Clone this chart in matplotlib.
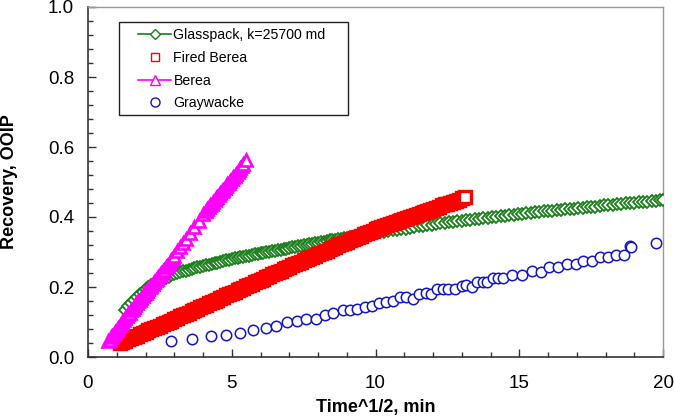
import matplotlib
matplotlib.use("Agg")
import matplotlib.pyplot as plt
from matplotlib.ticker import MultipleLocator, FuncFormatter
from matplotlib.lines import Line2D
from matplotlib.patches import Rectangle

plt.rcParams['font.family'] = ['Liberation Sans', 'DejaVu Sans']

# ---- data ----
gw_x = [2.88, 3.63, 4.28, 4.81, 5.29, 5.74, 6.18, 6.53, 6.92, 7.26, 7.58, 7.92, 8.24, 8.53,
        8.86, 9.10, 9.37, 9.64, 9.88, 10.13, 10.37, 10.62, 10.85, 11.06, 11.29, 11.53, 11.76,
        11.92, 12.13, 12.34, 12.53, 12.77, 13.00, 13.15, 13.34, 13.52, 13.73, 13.89, 14.10,
        14.27, 14.45, 14.74, 15.08, 15.43, 15.75, 16.03, 16.36, 16.65, 16.97, 17.23, 17.52,
        17.81, 18.10, 18.37, 18.64, 18.85, 18.89, 19.75]
gw_y = [0.045, 0.052, 0.059, 0.063, 0.069, 0.078, 0.084, 0.089, 0.100, 0.104, 0.109, 0.110,
        0.119, 0.126, 0.133, 0.133, 0.136, 0.144, 0.146, 0.155, 0.158, 0.161, 0.171, 0.171,
        0.167, 0.179, 0.182, 0.179, 0.193, 0.193, 0.193, 0.193, 0.203, 0.206, 0.200, 0.215,
        0.215, 0.215, 0.227, 0.227, 0.227, 0.234, 0.234, 0.247, 0.244, 0.256, 0.256, 0.266,
        0.266, 0.275, 0.275, 0.285, 0.285, 0.291, 0.291, 0.317, 0.315, 0.327]

fb_x = [1.1, 1.2, 1.3, 1.4, 1.5, 1.6, 1.7, 1.8, 1.9, 2.0, 2.1, 2.2, 2.3, 2.4, 2.5, 2.6, 2.7,
        2.8, 2.9, 3.0, 3.1, 3.2, 3.3, 3.4, 3.5, 3.6, 3.7, 3.8, 3.9, 4.0, 4.1, 4.2, 4.3, 4.4,
        4.5, 4.6, 4.7, 4.8, 4.9, 5.0, 5.1, 5.2, 5.3, 5.4, 5.5, 5.6, 5.7, 5.8, 5.9, 6.0, 6.1,
        6.2, 6.3, 6.4, 6.5, 6.6, 6.7, 6.8, 6.9, 7.0, 7.1, 7.2, 7.3, 7.4, 7.5, 7.6, 7.7, 7.8,
        7.9, 8.0, 8.1, 8.2, 8.3, 8.4, 8.5, 8.6, 8.7, 8.8, 8.9, 9.0, 9.1, 9.2, 9.3, 9.4, 9.5,
        9.6, 9.7, 9.8, 9.9, 10.0, 10.1, 10.2, 10.3, 10.4, 10.5, 10.6, 10.7, 10.8, 10.9, 11.0,
        11.1, 11.2, 11.3, 11.4, 11.5, 11.6, 11.7, 11.8, 11.9, 12.0, 12.1, 12.2, 12.3, 12.4,
        12.5, 12.6, 12.7, 12.8, 12.9, 13.0, 13.1]
fb_y = [0.040, 0.044, 0.047, 0.051, 0.054, 0.058, 0.061, 0.065, 0.069, 0.072, 0.076, 0.079,
        0.083, 0.086, 0.090, 0.094, 0.097, 0.101, 0.104, 0.108, 0.112, 0.116, 0.119, 0.123,
        0.127, 0.131, 0.134, 0.138, 0.142, 0.146, 0.149, 0.153, 0.157, 0.161, 0.164, 0.168,
        0.172, 0.176, 0.179, 0.183, 0.187, 0.191, 0.194, 0.198, 0.202, 0.206, 0.209, 0.213,
        0.217, 0.221, 0.224, 0.228, 0.232, 0.236, 0.239, 0.243, 0.247, 0.251, 0.254, 0.258,
        0.262, 0.265, 0.269, 0.272, 0.276, 0.279, 0.283, 0.287, 0.290, 0.294, 0.297, 0.301,
        0.304, 0.308, 0.312, 0.315, 0.319, 0.322, 0.326, 0.329, 0.333, 0.337, 0.340, 0.344,
        0.347, 0.351, 0.354, 0.358, 0.361, 0.365, 0.368, 0.371, 0.374, 0.377, 0.380, 0.383,
        0.386, 0.389, 0.391, 0.394, 0.397, 0.400, 0.403, 0.406, 0.409, 0.412, 0.415, 0.418,
        0.421, 0.424, 0.427, 0.430, 0.433, 0.436, 0.438, 0.441, 0.444, 0.447, 0.450, 0.453,
        0.456]

gp_x = [1.3, 1.4, 1.5, 1.6, 1.7, 1.8, 1.9, 2.0, 2.1, 2.2, 2.3, 2.4, 2.5, 2.6, 2.7, 2.8, 2.9,
        3.0, 3.1, 3.2, 3.3, 3.4, 3.5, 3.6, 3.7, 3.8, 3.9, 4.0, 4.1, 4.2, 4.3, 4.4, 4.5, 4.6,
        4.7, 4.8, 4.9, 5.0, 5.1, 5.2, 5.3, 5.4, 5.5, 5.6, 5.7, 5.8, 5.9, 6.0, 6.1, 6.2, 6.3,
        6.4, 6.5, 6.6, 6.7, 6.8, 6.9, 7.0, 7.1, 7.2, 7.3, 7.4, 7.5, 7.6, 7.7, 7.8, 7.9, 8.0,
        8.1, 8.2, 8.3, 8.4, 8.5, 8.6, 8.7, 8.8, 8.9, 9.0, 9.1, 9.2, 9.3, 9.4, 9.5, 9.6, 9.7,
        9.8, 9.9, 10.0, 10.15, 10.30, 10.45, 10.60, 10.75, 10.90, 11.05, 11.20, 11.35, 11.50,
        11.65, 11.80, 11.95, 12.10, 12.25, 12.40, 12.55, 12.70, 12.85, 13.00, 13.15, 13.30,
        13.45, 13.60, 13.75, 13.90, 14.05, 14.20, 14.35, 14.50, 14.65, 14.80, 14.95, 15.10,
        15.25, 15.40, 15.55, 15.70, 15.85, 16.00, 16.15, 16.30, 16.45, 16.60, 16.75, 16.90,
        17.05, 17.20, 17.35, 17.50, 17.65, 17.80, 17.95, 18.10, 18.25, 18.40, 18.55, 18.70,
        18.85, 19.00, 19.15, 19.30, 19.45, 19.60, 19.75, 19.90, 20.00]
gp_y = [0.135, 0.145, 0.154, 0.163, 0.171, 0.179, 0.186, 0.193, 0.199, 0.205, 0.210, 0.215,
        0.220, 0.224, 0.227, 0.230, 0.233, 0.236, 0.239, 0.242, 0.245, 0.247, 0.250, 0.252,
        0.254, 0.256, 0.258, 0.260, 0.262, 0.264, 0.266, 0.268, 0.270, 0.272, 0.274, 0.276,
        0.278, 0.280, 0.282, 0.283, 0.285, 0.286, 0.288, 0.290, 0.291, 0.293, 0.294, 0.296,
        0.298, 0.299, 0.301, 0.302, 0.304, 0.306, 0.307, 0.309, 0.310, 0.312, 0.314, 0.315,
        0.317, 0.318, 0.320, 0.321, 0.323, 0.324, 0.326, 0.327, 0.328, 0.330, 0.331, 0.333,
        0.334, 0.335, 0.337, 0.338, 0.340, 0.341, 0.342, 0.344, 0.345, 0.346, 0.348, 0.349,
        0.350, 0.351, 0.353, 0.354, 0.356, 0.358, 0.360, 0.362, 0.364, 0.366, 0.367, 0.369,
        0.371, 0.373, 0.375, 0.377, 0.378, 0.380, 0.382, 0.383, 0.385, 0.386, 0.388, 0.389,
        0.391, 0.392, 0.394, 0.395, 0.397, 0.398, 0.400, 0.401, 0.403, 0.404, 0.405, 0.407,
        0.408, 0.409, 0.411, 0.412, 0.413, 0.415, 0.416, 0.417, 0.418, 0.420, 0.421, 0.422,
        0.423, 0.424, 0.426, 0.427, 0.428, 0.429, 0.430, 0.432, 0.433, 0.434, 0.435, 0.436,
        0.437, 0.439, 0.440, 0.441, 0.442, 0.443, 0.444, 0.445, 0.447, 0.448, 0.449]

be_x = [0.70, 0.75, 0.80, 0.85, 0.90, 0.95, 1.00, 1.05, 1.10, 1.15, 1.20, 1.25, 1.30, 1.35,
        1.40, 1.45, 1.50, 1.55, 1.60, 1.65, 1.70, 1.75, 1.80, 1.85, 1.90, 1.95, 2.00, 2.05,
        2.10, 2.15, 2.20, 2.25, 2.30, 2.35, 2.40, 2.45, 2.50, 2.55, 2.60, 2.65, 2.70, 2.75,
        2.80, 2.85, 2.90, 2.95, 3.00, 3.10, 3.20, 3.30, 3.40, 3.55, 3.70, 3.85, 4.00, 4.10,
        4.15, 4.20, 4.25, 4.30, 4.35, 4.40, 4.45, 4.50, 4.55, 4.60, 4.65, 4.70, 4.75, 4.80,
        4.85, 4.90, 4.95, 5.00, 5.05, 5.10, 5.15, 5.20, 5.25, 5.30, 5.35, 5.40, 5.48]
be_y = [0.045, 0.050, 0.056, 0.061, 0.067, 0.072, 0.078, 0.083, 0.089, 0.094, 0.100, 0.105,
        0.111, 0.116, 0.122, 0.127, 0.133, 0.138, 0.144, 0.149, 0.154, 0.159, 0.164, 0.169,
        0.174, 0.179, 0.184, 0.189, 0.194, 0.199, 0.204, 0.209, 0.214, 0.219, 0.224, 0.229,
        0.234, 0.239, 0.245, 0.250, 0.256, 0.261, 0.267, 0.272, 0.278, 0.284, 0.290, 0.302,
        0.314, 0.326, 0.338, 0.355, 0.372, 0.390, 0.408, 0.418, 0.423, 0.428, 0.433, 0.438,
        0.443, 0.448, 0.453, 0.458, 0.463, 0.468, 0.473, 0.478, 0.483, 0.488, 0.493, 0.498,
        0.503, 0.508, 0.513, 0.518, 0.523, 0.528, 0.534, 0.540, 0.546, 0.552, 0.563]

labels = ["Glasspack, k=25700 md", "Fired Berea", "Berea", "Graywacke"]

GREEN = '#1a7f1a'
RED = '#ff0000'
MAG = '#ff00ff'
BLUE = '#1414cc'

W, H = 675, 417
fig = plt.figure(figsize=(W / 100, H / 100), dpi=100)
AX_L, AX_R, AX_T, AX_B = 88, 663, 7, 357
ax = fig.add_axes([AX_L / W, 1 - AX_B / H, (AX_R - AX_L) / W, (AX_B - AX_T) / H])

ax.plot(gw_x, gw_y, linestyle='none', marker='o', ms=7.5, mfc='white', mec=BLUE, mew=1.1, zorder=2)
ax.plot(gp_x, gp_y, linestyle='-', color=GREEN, lw=1.2, marker='D', ms=6.2, mfc='white',
        mec=GREEN, mew=1.3, zorder=3)
ax.plot(fb_x, fb_y, linestyle='none', marker='s', ms=8.3, mfc='white', mec=RED, mew=2.4, zorder=4)
ax.plot(be_x, be_y, linestyle='-', color=MAG, lw=1.2, marker='^', ms=8.5, mfc='white',
        mec=MAG, mew=1.9, zorder=5)

ax.set_xlim(0, 20)
ax.set_ylim(0, 1.0)
ax.xaxis.set_major_locator(MultipleLocator(5))
ax.xaxis.set_minor_locator(MultipleLocator(1))
ax.yaxis.set_major_locator(MultipleLocator(0.2))
ax.yaxis.set_minor_locator(MultipleLocator(0.04))
ax.xaxis.set_major_formatter(FuncFormatter(lambda v, p: f"{v:.0f}"))
ax.yaxis.set_major_formatter(FuncFormatter(lambda v, p: f"{v:.1f}"))

ax.tick_params(which='both', direction='in', top=False, right=False, labelsize=13.5,
               width=1.0, color='#333333')
ax.tick_params(which='major', length=5.5)
ax.tick_params(which='minor', length=3.5)
ax.tick_params(axis='y', which='major', pad=10)
ax.tick_params(axis='x', which='major', pad=13)

for s in ['left', 'bottom']:
    ax.spines[s].set_color('#333333')
    ax.spines[s].set_linewidth(1.2)
for s in ['top', 'right']:
    ax.spines[s].set_color('#999999')
    ax.spines[s].set_linewidth(1.0)

ax.set_xlabel("Time^1/2, min", fontsize=13, fontweight='bold')
ax.set_ylabel("Recovery, OOIP", fontsize=13, fontweight='bold')
ax.xaxis.set_label_coords(0.5, (AX_B - 399) / (AX_B - AX_T))
ax.yaxis.set_label_coords((18 - AX_L) / (AX_R - AX_L), 0.5)

# legend frame drawn by hand
fig.patches.append(Rectangle((119 / W, 1 - 115 / H), (348 - 119) / W, (115 - 22) / H,
                             transform=fig.transFigure, fill=True, facecolor='white',
                             edgecolor='#222222', linewidth=1.0, zorder=6))

handles = [
    Line2D([], [], color=GREEN, lw=1.2, marker='D', ms=5, mfc='white', mec=GREEN),
    Line2D([], [], linestyle='none', marker='s', ms=6, mfc='white', mec=RED),
    Line2D([], [], color=MAG, lw=1.2, marker='^', ms=6.5, mfc='white', mec=MAG),
    Line2D([], [], linestyle='none', marker='o', ms=6.5, mfc='white', mec=BLUE),
]
leg = fig.legend(handles, labels, loc='upper left', bbox_to_anchor=(138 / W, 1 - 28 / H),
                 fontsize=10.2, frameon=False, handlelength=2.35, handletextpad=0.15,
                 labelspacing=0.62, borderpad=0, borderaxespad=0)
leg.set_zorder(7)

fig.savefig("out.png", dpi=100)
